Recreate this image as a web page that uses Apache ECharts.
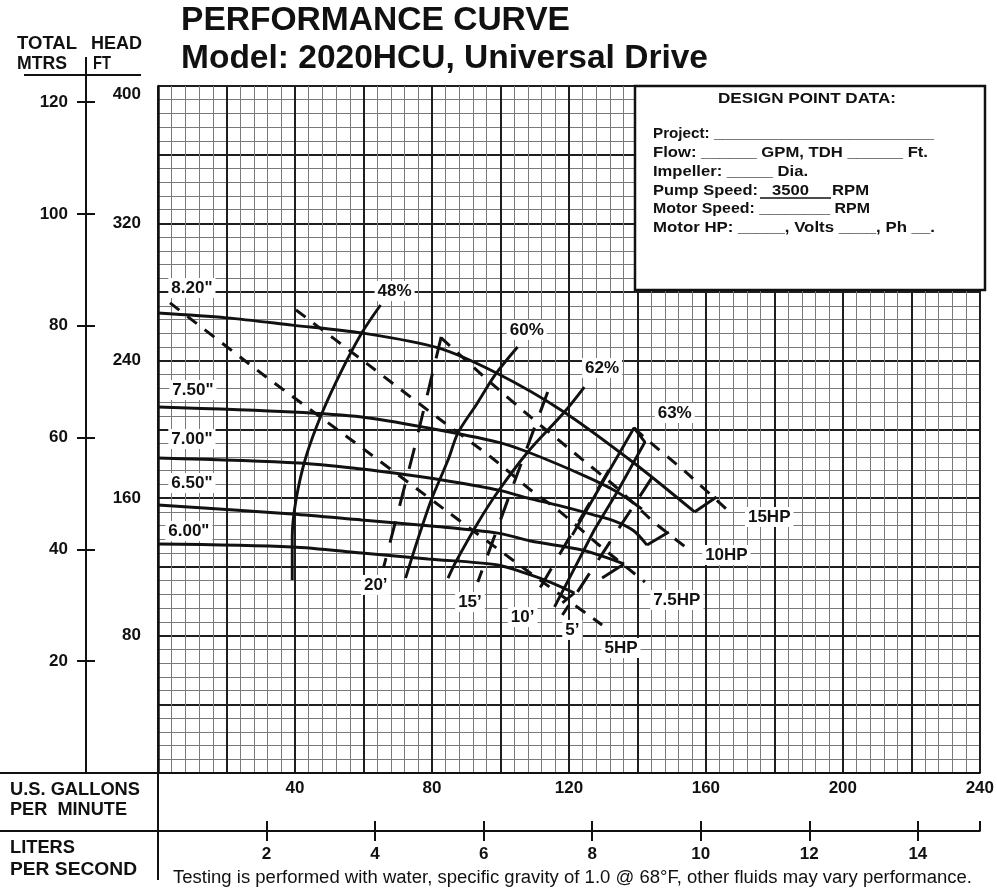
<!DOCTYPE html>
<html><head><meta charset="utf-8">
<script src="https://cdn.jsdelivr.net/npm/echarts/dist/echarts.min.js"></script>
<style>html,body{margin:0;padding:0;background:#fff}#c{width:997px;height:894px}</style>
</head><body><div id="c"></div>
<script>
// ---------------- DATA (flow in US GPM, head in feet) ----------------
const gpmLabels = [40, 80, 120, 160, 200, 240];
const ftLabels = [80, 160, 240, 320, 400];
const mtrLabels = [20, 40, 60, 80, 100, 120];
const lpsLabels = [2, 4, 6, 8, 10, 12, 14];

// impeller curves
const imp820 = [[0,267.8],[20,265.0],[39.2,260.8],[59.5,256.2],[81.8,247.5],[98.7,233.0],[118.1,210.8],[139.0,180.5],[156.7,152.0]];
const imp750 = [[0,213.1],[39.2,210.2],[59.5,207.3],[78.9,200.9],[99.2,192.7],[108.0,186.9],[125.4,172.3],[134.1,163.6],[141.3,153.7]];
const imp700 = [[0,183.4],[41.2,180.5],[59.5,177.0],[73.1,173.5],[84.7,170.0],[99.2,164.8],[108.0,160.1],[117.5,155.5],[127.4,150.2],[134.1,146.1],[139.0,140.9],[142.8,132.7]];
const imp650 = [[0,156.0],[39.2,150.8],[59.5,147.3],[79.8,143.8],[99.2,139.7],[108.8,135.1],[122.5,130.4],[129.7,126.3],[136.1,121.7]];
const imp600 = [[0,133.3],[39.2,131.6],[59.5,128.1],[78.9,124.6],[99.2,121.1],[108.8,115.3],[115.2,110.6],[121.6,104.8]];
// end-of-curve ticks
const end820 = [[156.7,152.0],[163.1,160.7]];
const end700 = [[142.8,132.7],[149.2,140.3]];
const end650 = [[136.1,121.7],[129.7,113.5]];
const end600 = [[121.6,104.8],[118.1,99.0]];

// efficiency lines
const eff48 = [[65.0,272.5],[59.5,256.2],[53.7,234.6],[47.9,209.6],[43.2,184.0],[40.3,159.0],[39.2,137.4],[39.2,112.4]];
const eff60 = [[105.0,248.0],[98.4,231.7],[92.9,214.3],[87.6,198.0],[84.7,182.2],[79.8,159.0],[76.0,136.8],[72.3,113.5]];
const eff62 = [[124.5,224.7],[118.7,210.2],[108.0,186.9],[99.2,163.6],[93.4,145.6],[86.8,122.3],[84.7,113.5]];
const eff63 = [[121.0,138.6],[131.9,176.4],[139.0,200.9],[142.2,192.7],[134.1,163.6],[127.4,141.5],[115.8,96.7]];

// NPSH required lines
const npsh20 = [[82.7,253.9],[74.6,186.9],[65.9,119.9]];
const npsh15 = [[113.8,221.8],[104.5,171.8],[93.4,111.2]];
const npsh10 = [[131.7,176.4],[110.0,102.5]];
const npsh5 = [[144.2,171.8],[118.1,92.0]];

// horsepower lines
const hp15 = [[139.0,200.9],[141.9,195.6],[154.4,174.7],[166.9,152.0]];
const hp10 = [[82.7,253.3],[96.3,228.8],[108.8,207.3],[121.6,186.3],[134.1,165.9],[144.8,146.1],[154.4,131.0]];
const hp75 = [[40.3,269.6],[61.5,237.6],[81.8,206.7],[97.2,184.0],[108.8,164.8],[117.2,152.5],[129.1,132.2],[142.2,111.2]];
const hp5 = [[3.5,273.7],[31.6,230.6],[57.7,192.1],[83.9,153.1],[109.1,115.9],[129.7,86.2]];

// in-chart annotations
const noteText = ['8.20"','7.50"','7.00"','6.50"','6.00"','48%','60%','62%','63%','15HP','10HP','7.5HP','5HP',"20’","15’","10’","5’"];
const noteAt = [[9.9,282.4],[10.2,223.0],[9.9,194.5],[9.9,168.8],[9.0,140.9],[69.1,280.6],[107.7,257.9],[129.7,235.8],[150.9,209.6],[178.5,149.1],[166.0,126.9],[151.5,100.7],[135.2,72.8],[63.6,109.5],[91.1,99.6],[106.5,90.8],[121.0,83.3]];

// ---------------- LAYOUT ----------------
const GPM_PER_LPS = 15.850323;
const FT_MAX = 400, M_MAX = 122.9;
const FONT = '"Liberation Sans", Arial, Helvetica, sans-serif';
const G = {left: 158, top: 86, right: 985, bottom: 773};
const INK = '#111';

const mctx = document.createElement('canvas').getContext('2d');
function fit(text, font, target) { mctx.font = font; return target / mctx.measureText(text).width; }
function txt(text, x, y, size, weight, target, extra) {
  const font = (weight ? 'bold ' : '') + size + 'px ' + FONT;
  const o = {type: 'text', x: x, y: y, z: 60, silent: true,
    style: Object.assign({text: text, font: font, fill: INK, verticalAlign: 'middle', align: 'left'}, extra || {})};
  if (target) o.scaleX = fit(text, font, target);
  return o;
}
function ln(x1, y1, x2, y2, w) {
  return {type: 'line', z: 60, silent: true, shape: {x1, y1, x2, y2}, style: {stroke: INK, lineWidth: w || 2}};
}

const chart = echarts.init(document.getElementById('c'), null, {renderer: 'canvas'});

function curve(data, w, dash, smooth) {
  return {type: 'line', data: data, symbol: 'none', showSymbol: false, smooth: smooth || 0,
    lineStyle: {color: INK, width: w, type: dash || 'solid', cap: 'butt', opacity: 1}, silent: true, z: 3,
    xAxisIndex: 0, yAxisIndex: 0};
}

const axisLbl = {fontFamily: FONT, fontWeight: 'bold', fontSize: 17, color: INK};
const axLine = {show: true, onZero: false, lineStyle: {color: INK, width: 2}};
const W = 2.9;

const option = {
  animation: false,
  backgroundColor: '#fff',
  grid: {left: G.left, top: G.top, right: 997 - G.right, bottom: 894 - G.bottom, containLabel: false},
  xAxis: [
    {type: 'value', min: 0, max: 240, interval: 20, position: 'bottom',
     axisLine: axLine, axisTick: {show: false},
     axisLabel: Object.assign({margin: 7, customValues: gpmLabels,
       formatter: v => (gpmLabels.indexOf(v) >= 0 ? String(v) : '')}, axisLbl),
     splitLine: {show: true, lineStyle: {color: '#1e1e1e', width: 2}},
     minorTick: {show: false, splitNumber: 5},
     minorSplitLine: {show: true, lineStyle: {color: '#7a7a7a', width: 1}}},
    {type: 'value', min: 0, max: 240 / GPM_PER_LPS, position: 'bottom', offset: 58, interval: 2,
     axisLine: axLine,
     axisTick: {show: true, length: 10, inside: false, customValues: lpsLabels, lineStyle: {color: INK, width: 2}},
     axisLabel: Object.assign({margin: 15, customValues: lpsLabels,
       formatter: v => (lpsLabels.indexOf(v) >= 0 ? String(v) : '')}, axisLbl),
     splitLine: {show: false}},
    {type: 'value', min: 0, max: 240 / GPM_PER_LPS, position: 'bottom', offset: 58, interval: 2,
     axisLine: {show: false, onZero: false},
     axisTick: {show: true, length: 10, inside: true, customValues: lpsLabels.concat([240 / GPM_PER_LPS]), lineStyle: {color: INK, width: 2}},
     axisLabel: {show: false}, splitLine: {show: false}}
  ],
  yAxis: [
    {type: 'value', min: 0, max: FT_MAX, interval: 40, position: 'left',
     axisLine: {show: true, onZero: false, lineStyle: {color: INK, width: 2.5}}, axisTick: {show: false},
     axisLabel: Object.assign({margin: 17, customValues: ftLabels, verticalAlignMaxLabel: 'top',
       formatter: v => (ftLabels.indexOf(v) >= 0 ? String(v) : '')}, axisLbl),
     splitLine: {show: true, lineStyle: {color: '#1e1e1e', width: 2}},
     minorTick: {show: false, splitNumber: 5},
     minorSplitLine: {show: true, lineStyle: {color: '#7a7a7a', width: 1}}},
    {type: 'value', min: 0, max: M_MAX, interval: 20, position: 'left', offset: 72,
     axisLine: axLine,
     axisTick: {show: true, length: 9, inside: false, customValues: mtrLabels, lineStyle: {color: INK, width: 2}},
     axisLabel: Object.assign({margin: 18, customValues: mtrLabels,
       formatter: v => (mtrLabels.indexOf(v) >= 0 ? String(v) : '')}, axisLbl),
     splitLine: {show: false}},
    {type: 'value', min: 0, max: M_MAX, interval: 20, position: 'left', offset: 72,
     axisLine: {show: false, onZero: false},
     axisTick: {show: true, length: 9, inside: true, customValues: mtrLabels, lineStyle: {color: INK, width: 2}},
     axisLabel: {show: false}, splitLine: {show: false}}
  ],
  series: [
    curve(imp820, W, null, 0.3), curve(imp750, W, null, 0.3), curve(imp700, W, null, 0.3),
    curve(imp650, W, null, 0.3), curve(imp600, W, null, 0.3),
    curve(end820, W), curve(end700, W), curve(end650, W), curve(end600, W),
    curve(eff48, W, null, 0.3), curve(eff60, W, null, 0.3), curve(eff62, W, null, 0.3), curve(eff63, W, null, 0),
    curve(npsh20, 3, [22, 16], 0.2), curve(npsh15, 3, [22, 16], 0.2), curve(npsh10, 3, [22, 16]), curve(npsh5, 3, [22, 16]),
    curve(hp15, 3, [12, 10], 0.2), curve(hp10, 3, [12, 10], 0.2), curve(hp75, 3, [12, 10], 0.2), curve(hp5, 3, [12, 10], 0.2),
    {type: 'scatter', symbolSize: 0, silent: true, z: 10, xAxisIndex: 0, yAxisIndex: 0,
     itemStyle: {opacity: 1},
     data: noteAt.map((p, i) => ({value: p, name: noteText[i]})),
     label: {show: true, position: 'inside', formatter: '{b}', fontFamily: FONT, fontWeight: 'bold', fontSize: 17,
       color: INK, opacity: 1, backgroundColor: '#fff', padding: [2, 3, 1, 3]}}
  ],
  graphic: [
    // titles
    txt('PERFORMANCE CURVE', 181, 21, 34, true, 389),
    txt('Model: 2020HCU, Universal Drive', 181, 59, 34, true, 527),
    // left header
    txt('TOTAL', 17, 44, 18, true, 60), txt('HEAD', 91, 44, 18, true, 51),
    txt('MTRS', 17, 64, 18, true, 50), txt('FT', 93, 64, 18, true, 18),
    ln(24, 75, 141, 75, 2), ln(86, 57, 86, 86, 2),
    // bottom-left captions
    txt('U.S. GALLONS', 10, 790, 18, true, 130), txt('PER  MINUTE', 10, 810, 18, true, 117),
    txt('LITERS', 10, 848, 18, true, 65), txt('PER SECOND', 10, 870, 18, true, 127),
    ln(0, 773, G.left, 773, 2), ln(0, 831, G.left, 831, 2), ln(G.left, 773, G.left, 880, 2),
    // footer
    txt('Testing is performed with water, specific gravity of 1.0 @ 68°F, other fluids may vary performance.', 173, 878, 18, false, 799),
    // design point box
    {type: 'rect', z: 55, silent: true, shape: {x: 635, y: 86, width: 350, height: 204},
     style: {fill: '#fff', stroke: INK, lineWidth: 2.5}},
    txt('DESIGN POINT DATA:', 718, 99, 15, true, 178),
    txt('Project: __________________________', 653, 134, 15, true, 281),
    txt('Flow: ______ GPM, TDH ______ Ft.', 653, 153, 15, true, 275),
    txt('Impeller: _____ Dia.', 653, 172, 15, true, 155),
    txt('Pump Speed:', 653, 191, 15, true, 105), txt('3500', 772, 191, 15, true, 37), txt('RPM', 832, 191, 15, true, 37),
    ln(760, 198, 831, 198, 1.6),
    txt('Motor Speed: ________ RPM', 653, 209, 15, true, 217),
    txt('Motor HP: _____, Volts ____, Ph __.', 653, 228, 15, true, 282)
  ]
};
chart.setOption(option);
</script>
</body></html>
